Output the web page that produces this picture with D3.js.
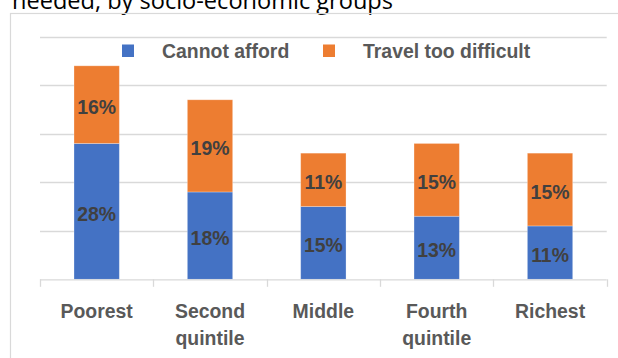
<!DOCTYPE html>
<html>
<head>
<meta charset="utf-8">
<script src="https://cdn.jsdelivr.net/npm/d3@7/dist/d3.min.js"></script>
<style>
  html, body { margin: 0; padding: 0; background: #fff; }
  svg { display: block; }
</style>
</head>
<body>
<svg id="chart" width="618" height="358"></svg>
<script>
// Reasons for not seeking care, by wealth quintile (percent)
const categories = ["Poorest", "Second quintile", "Middle", "Fourth quintile", "Richest"];
const cannotAfford = [28, 18, 15, 13, 11];
const travelTooDifficult = [16, 19, 11, 15, 15];
const seriesNames = ["Cannot afford", "Travel too difficult"];
const gridTicks = [0, 10, 20, 30, 40, 50];

const colors = ["#4472C4", "#ED7D31"];
const labelFont = "'Liberation Sans', Arial, sans-serif";
const labelSize = 21;
const squeeze = 0.925; // narrow bold labels

const svg = d3.select("#chart");
const W = 618, H = 358;
svg.append("rect").attr("width", W).attr("height", H).attr("fill", "#fff");

// Title line (partly above the visible area)
svg.append("text")
  .attr("x", 12).attr("y", 8.5)
  .attr("font-family", "'Open Sans', 'Noto Sans', sans-serif")
  .attr("font-size", 24)
  .attr("fill", "#000")
  .attr("textLength", 381)
  .attr("lengthAdjust", "spacingAndGlyphs")
  .text("needed, by socio-economic groups");

// Chart frame
svg.append("rect")
  .attr("x", 10.5).attr("y", 13.5)
  .attr("width", 700).attr("height", 400)
  .attr("fill", "none")
  .attr("stroke", "#D9D9D9").attr("stroke-width", 1.2);

const plotLeft = 40, plotRight = 606.7, plotTop = 36.7, plotBottom = 279.3;

const x = d3.scaleBand()
  .domain(categories)
  .range([plotLeft, plotRight])
  .paddingInner(0.6)
  .paddingOuter(0.3);

const y = d3.scaleLinear()
  .domain([0, 50])
  .range([plotBottom, plotTop]);

const place = (px, py) => `translate(${px},${py}) scale(${squeeze},1)`;

// Horizontal gridlines
svg.append("g")
  .selectAll("line")
  .data(gridTicks.filter(d => d > 0))
  .join("line")
  .attr("x1", plotLeft).attr("x2", plotRight)
  .attr("y1", d => Math.round(y(d)) + 0.5)
  .attr("y2", d => Math.round(y(d)) + 0.5)
  .attr("stroke", "#D9D9D9").attr("stroke-width", 1.3);

// Stacked series
const rows = categories.map((c, i) => ({
  category: c,
  "Cannot afford": cannotAfford[i],
  "Travel too difficult": travelTooDifficult[i]
}));
const stacked = d3.stack().keys(seriesNames)(rows);

const layers = svg.append("g")
  .selectAll("g")
  .data(stacked)
  .join("g")
  .attr("fill", (d, i) => colors[i]);

layers.selectAll("rect")
  .data(d => d)
  .join("rect")
  .attr("x", d => x(d.data.category))
  .attr("width", x.bandwidth())
  .attr("y", d => y(d[1]))
  .attr("height", d => y(d[0]) - y(d[1]))
  .attr("stroke", "rgba(255,255,255,0.35)")
  .attr("stroke-width", 0.8);

// Value labels
layers.selectAll("text")
  .data(d => d.map(v => ({ v, key: d.key })))
  .join("text")
  .attr("transform", d => place(x(d.v.data.category) + x.bandwidth() / 2,
                                (y(d.v[0]) + y(d.v[1])) / 2 + 2))
  .attr("text-anchor", "middle")
  .attr("dominant-baseline", "central")
  .attr("font-family", labelFont)
  .attr("font-weight", "bold")
  .attr("font-size", labelSize)
  .attr("fill", "#404040")
  .text(d => d.v.data[d.key] + "%");

// Category axis
const xAxis = svg.append("g");
xAxis.append("line")
  .attr("x1", plotLeft).attr("x2", plotRight)
  .attr("y1", plotBottom + 0.5).attr("y2", plotBottom + 0.5)
  .attr("stroke", "#D9D9D9").attr("stroke-width", 1.3);

const boundaries = categories.map((c, i) => i === 0 ? plotLeft : x(c) - x.step() * x.paddingInner() / 2);
boundaries.push(plotRight);
xAxis.selectAll("line.tick")
  .data(boundaries)
  .join("line")
  .attr("class", "tick")
  .attr("x1", d => Math.round(d) + 0.5).attr("x2", d => Math.round(d) + 0.5)
  .attr("y1", plotBottom).attr("y2", plotBottom + 7.5)
  .attr("stroke", "#D9D9D9").attr("stroke-width", 1.3);

const catLabels = xAxis.selectAll("text")
  .data(categories)
  .join("text")
  .attr("transform", d => place(x(d) + x.bandwidth() / 2, 317.5))
  .attr("text-anchor", "middle")
  .attr("font-family", labelFont)
  .attr("font-weight", "bold")
  .attr("font-size", labelSize)
  .attr("fill", "#595959");

catLabels.each(function (d) {
  const words = d.split(" ");
  const t = d3.select(this);
  words.forEach((w, i) => {
    t.append("tspan")
      .attr("x", 0)
      .attr("dy", i === 0 ? 0 : 28)
      .text(w);
  });
});

// Legend
const legendPos = [{ sx: 122, tx: 162 }, { sx: 323, tx: 363 }];
const legend = svg.append("g")
  .selectAll("g")
  .data(seriesNames)
  .join("g");
legend.append("rect")
  .attr("x", (d, i) => legendPos[i].sx)
  .attr("y", 44.5)
  .attr("width", 12).attr("height", 12.5)
  .attr("fill", (d, i) => colors[i]);
legend.append("text")
  .attr("transform", (d, i) => place(legendPos[i].tx, 57.5))
  .attr("font-family", labelFont)
  .attr("font-weight", "bold")
  .attr("font-size", labelSize)
  .attr("fill", "#595959")
  .text(d => d);
</script>
</body>
</html>
